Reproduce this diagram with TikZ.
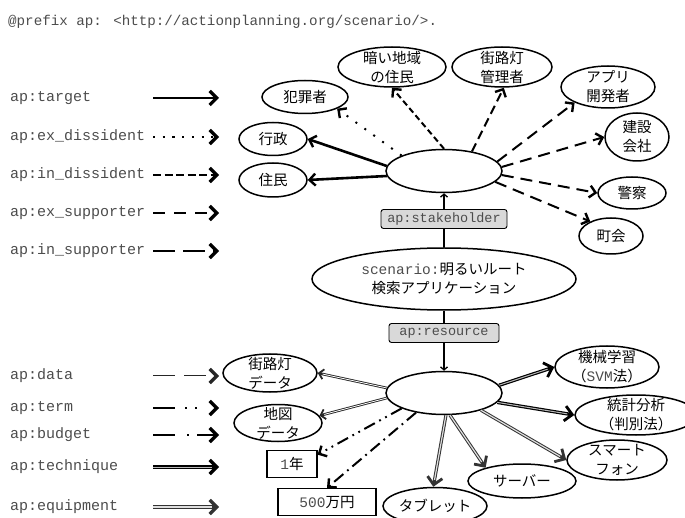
\documentclass[tikz,border=0pt]{standalone}
\usepackage{fontspec}
\usetikzlibrary{shapes.geometric,arrows.meta}
\newfontfamily\jp{Noto Sans CJK JP}
\newfontfamily\mono{Liberation Mono}
\definecolor{monogray}{gray}{0.3}
\definecolor{tagfill}{gray}{0.85}

\tikzset{
  % ellipse nodes: size fixed by minimum width/height only
  ell/.style={ellipse, draw, line width=1.5pt, inner sep=-30pt, align=center,
    font=\jp\fontsize{14.5}{19}\selectfont},
  tagbox/.style={draw, line width=0.9pt, rounded corners=2.5pt, fill=tagfill,
    inner sep=0pt, minimum height=19pt, font=\mono\fontsize{13.5}{16}\selectfont, text=monogray},
  valbox/.style={draw, line width=1.2pt, inner sep=0pt, minimum height=27pt,
    font=\jp\fontsize{14.5}{17}\selectfont},
  legtext/.style={anchor=west, inner sep=0pt, font=\mono\fontsize{15}{18}\selectfont, text=monogray},
  % arrow tips
  barb/.style={-{Straight Barb[length=6pt,width=12pt,line width=2.4pt]}},
  bigbarb/.style={-{Straight Barb[length=7.5pt,width=15pt,line width=2.8pt]}},
  lbarb/.style={-{Straight Barb[length=7pt,width=14pt,line width=3.2pt]}},
  thinbarb/.style={-{Straight Barb[length=3pt,width=7pt,line width=1.3pt]}},
  % relation line styles
  target/.style={line width=2.6pt},
  exdis/.style={line width=2pt, dash pattern=on 2pt off 9pt},
  indis/.style={line width=2pt, dash pattern=on 6pt off 3.5pt},
  exsup/.style={line width=2pt, dash pattern=on 9pt off 5pt},
  insup/.style={line width=2pt, dash pattern=on 12pt off 7pt},
  term/.style={line width=2pt, dash pattern=on 12pt off 5pt on 1.8pt off 5pt on 1.8pt off 5pt},
  budget/.style={line width=2pt, dash pattern=on 12pt off 5pt on 1.8pt off 5pt},
  data/.style={draw=black!85, line width=2.6pt,
    postaction={draw=white, line width=0.8pt, arrows=-, shorten >=5pt}},
  tech/.style={draw=black, line width=3.4pt,
    postaction={draw=gray!55, line width=1pt, arrows=-, shorten >=7pt}},
  equip/.style={draw=black!80, line width=3.2pt,
    postaction={draw=gray!25, line width=1.2pt, arrows=-, shorten >=7pt}},
  link/.style={line width=1.3pt, thinbarb},
}

\begin{document}
\begin{tikzpicture}[x=1pt, y=-1pt]
\useasboundingbox (0,0) rectangle (685,518);

% prefix declaration
\node[anchor=west, inner sep=0pt, font=\mono\fontsize{14.2}{17}\selectfont, text=monogray]
  (hdr) at (8,22) {@prefix ap: <http://actionplanning.org/scenario/>.};

% legend: stakeholder relations
\node[legtext] (l1) at (10,98)  {ap:target};
\node[legtext] (l2) at (10,137) {ap:ex\_dissident};
\node[legtext] (l3) at (10,175) {ap:in\_dissident};
\node[legtext] (l4) at (10,213) {ap:ex\_supporter};
\node[legtext] (l5) at (10,251) {ap:in\_supporter};
\foreach \n/\y in {1/98,2/137,3/175,4/213,5/251}{
  \coordinate (a\n) at (153,\y); \coordinate (b\n) at (219,\y);}
\draw[target, lbarb] (a1) -- (b1);
\draw[line width=2.2pt, dash pattern=on 2.2pt off 7.5pt, lbarb] (a2) -- (b2);
\draw[line width=2.2pt, dash pattern=on 8pt off 3.5pt, lbarb] (a3) -- (b3);
\draw[line width=2.2pt, dash pattern=on 12pt off 9pt, lbarb] (a4) -- (b4);
\draw[line width=2.2pt, dash pattern=on 22pt off 8pt, lbarb] (a5) -- (b5);

% legend: resource relations
\node[legtext] (l6)  at (10,376) {ap:data};
\node[legtext] (l7)  at (10,408) {ap:term};
\node[legtext] (l8)  at (10,435) {ap:budget};
\node[legtext] (l9)  at (10,467) {ap:technique};
\node[legtext] (l10) at (10,507) {ap:equipment};
\foreach \n/\y in {6/376,7/408,8/435,9/467,10/507}{
  \coordinate (a\n) at (153,\y); \coordinate (b\n) at (219,\y);}
\draw[data, dash pattern=on 22pt off 9pt, lbarb] (a6) -- (b6);
\draw[line width=2.4pt, dash pattern=on 22pt off 10pt on 2.2pt off 8pt on 2.2pt off 30pt, lbarb] (a7) -- (b7);
\draw[line width=2.4pt, dash pattern=on 22pt off 12pt on 2.2pt off 8pt, lbarb] (a8) -- (b8);
\draw[tech, lbarb] (a9) -- (b9);
\draw[equip, lbarb] (a10) -- (b10);

% stakeholder side
\node[ell, minimum width=116pt, minimum height=43pt] (stk) at (444,171) {};
\node[ell, minimum width=86pt, minimum height=33pt]  (han)  at (305,97)  {犯罪者};
\node[ell, minimum width=108pt, minimum height=40pt] (dark) at (392,67)  {暗い地域\\の住民};
\node[ell, minimum width=100pt, minimum height=40pt] (lamp) at (502,67)  {街路灯\\管理者};
\node[ell, minimum width=94pt, minimum height=42pt]  (app)  at (608,87)  {アプリ\\開発者};
\node[ell, minimum width=64pt, minimum height=48pt]  (ken)  at (637,137) {建設\\会社};
\node[ell, minimum width=68pt, minimum height=32pt]  (kei)  at (632,193) {警察};
\node[ell, minimum width=64pt, minimum height=36pt]  (cho)  at (611,236) {町会};
\node[ell, minimum width=68pt, minimum height=33pt]  (gyo)  at (273,139) {行政};
\node[ell, minimum width=68pt, minimum height=34pt]  (jum)  at (273,180) {住民};

% scenario
\node[ell, minimum width=264pt, minimum height=62pt] (scn) at (444,279)
  {{\mono\color{monogray}scenario:}明るいルート\\検索アプリケーション};

% resource side
\node[ell, minimum width=116pt, minimum height=43pt] (res) at (444,393) {};
\node[ell, minimum width=94pt, minimum height=38pt]  (sld)  at (270,373) {街路灯\\データ};
\node[ell, minimum width=88pt, minimum height=37pt]  (map)  at (278,423) {地図\\データ};
\node[valbox, minimum width=50pt] (yr)  at (292,464) {{\mono\color{monogray}1}年};
\node[valbox, minimum width=98pt] (yen) at (327,502) {{\mono\color{monogray}500}万円};
\node[ell, minimum width=104pt, minimum height=37pt] (tab)  at (435,506) {タブレット};
\node[ell, minimum width=108pt, minimum height=34pt] (srv)  at (522,481) {サーバー};
\node[ell, minimum width=100pt, minimum height=40pt] (sp)   at (617,460) {スマート\\フォン};
\node[ell, minimum width=122pt, minimum height=40pt] (stat) at (636,415) {統計分析\\（判別法）};
\node[ell, minimum width=104pt, minimum height=42pt] (ml)   at (607,367)
  {機械学習\\（{\mono\color{monogray}SVM}法）};

% stakeholder relations
\draw[target, barb] (stk.175) -- (gyo.east);
\draw[target, barb] (stk.185) -- (jum.east);
\draw[exdis, barb]  (stk.160) -- (han.-20);
\draw[indis, barb]  (stk.north) -- (dark.south);
\draw[exsup, barb]  (stk.35) -- (lamp.-85);
\draw[insup, barb]  (stk.10) -- (app.205);
\draw[insup, barb]  (stk.4) -- (ken.west);
\draw[insup, barb]  (stk.-4) -- (kei.west);
\draw[insup, barb]  (stk.-12) -- (cho.145);

% resource relations
\draw[data, -{Straight Barb[length=4.5pt,width=10pt,line width=1.8pt]}] (res.175) -- (sld.east);
\draw[data, -{Straight Barb[length=4.5pt,width=10pt,line width=1.8pt]}] (res.185) -- (map.10);
\draw[term, barb]   (res.200) -- (yr.20);
\draw[budget, barb] (res.215) -- (yen.north);
\draw[equip, bigbarb]  (res.275) -- (tab.95);
\draw[equip, bigbarb]  (res.285) -- (srv.160);
\draw[equip, bigbarb]  (res.335) -- (sp.west);
\draw[tech, bigbarb]   (res.350) -- (stat.west);
\draw[tech, bigbarb]   (res.8) -- (ml.west);

% scenario links with their property tags
\draw[link] (scn) -- (stk);
\draw[link] (scn) -- (res);
\node[tagbox, minimum width=126pt] (tstk) at (444,219) {ap:stakeholder};
\node[tagbox, minimum width=110pt] (tres) at (444,333) {ap:resource};
\end{tikzpicture}
\end{document}
